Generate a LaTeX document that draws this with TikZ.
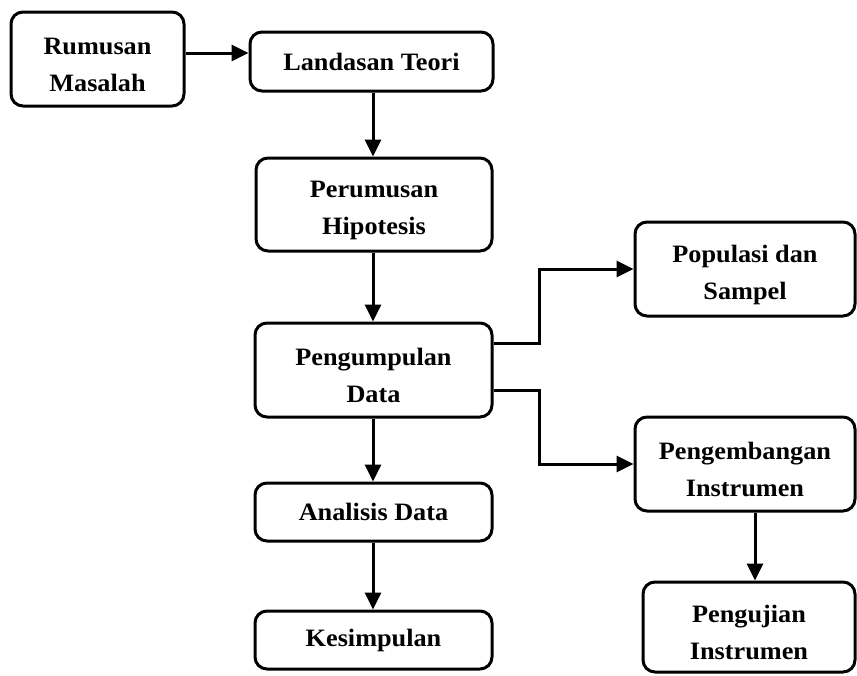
\documentclass[tikz,border=0pt]{standalone}
\usepackage{fontspec}
\setmainfont{Liberation Serif}[FakeStretch=1.05]
\usetikzlibrary{arrows.meta}
\begin{document}
\begin{tikzpicture}[x=1pt,y=-1pt,
  blk/.style={draw=black,line width=3pt,rounded corners=12pt,align=center,
    inner sep=0pt,font=\bfseries\fontsize{25}{37}\selectfont},
  two/.style={label={[align=center,inner sep=0pt,font=\bfseries\fontsize{25}{37}\selectfont,yshift=-5.5pt]center:#1}},
  arr/.style={line width=3pt,-{Triangle[length=17pt,width=16pt]}}]
\useasboundingbox (0,0) rectangle (857,675);
\node[blk,minimum width=173pt,minimum height=94pt,two={Rumusan\\Masalah}] (rum) at (97.5,59) {};
\node[blk,minimum width=243pt,minimum height=59pt] (lan) at (371.5,61.5) {Landasan Teori};
\node[blk,minimum width=236pt,minimum height=93pt,two={Perumusan\\Hipotesis}] (per) at (374,204.5) {};
\node[blk,minimum width=237pt,minimum height=94pt,two={Pengumpulan\\Data}] (pen) at (373.5,370) {};
\node[blk,minimum width=237pt,minimum height=58pt] (ana) at (373.5,512) {Analisis Data};
\node[blk,minimum width=237pt,minimum height=58pt] (kes) at (373.5,640) {Kesimpulan};
\node[blk,minimum width=220pt,minimum height=94pt,two={Populasi dan\\Sampel}] (pop) at (745,269) {};
\node[blk,minimum width=220pt,minimum height=94pt,two={Pengembangan\\Instrumen}] (peng) at (745,464) {};
\node[blk,minimum width=212pt,minimum height=90pt,two={Pengujian\\Instrumen}] (uji) at (749,627) {};
\draw[arr] ([yshift=6pt]rum.east) coordinate (a1) -- (a1 -| lan.west);
\draw[arr] (lan.south -| 373,0) coordinate (a2) -- (a2 |- per.north);
\draw[arr] (per.south -| 373,0) coordinate (a3) -- (a3 |- pen.north);
\draw[arr] (pen.south -| 373,0) coordinate (a4) -- (a4 |- ana.north);
\draw[arr] (ana.south -| 373,0) coordinate (a5) -- (a5 |- kes.north);
\draw[arr] ([yshift=27pt]pen.east) coordinate (b1) -- (b1 -| 539,0) |- (pop.west);
\draw[arr] ([yshift=-20pt]pen.east) coordinate (b2) -- (b2 -| 539,0) |- (peng.west);
\draw[arr] ([xshift=10pt]peng.south) coordinate (c1) -- (c1 |- uji.north);
\end{tikzpicture}
\end{document}
